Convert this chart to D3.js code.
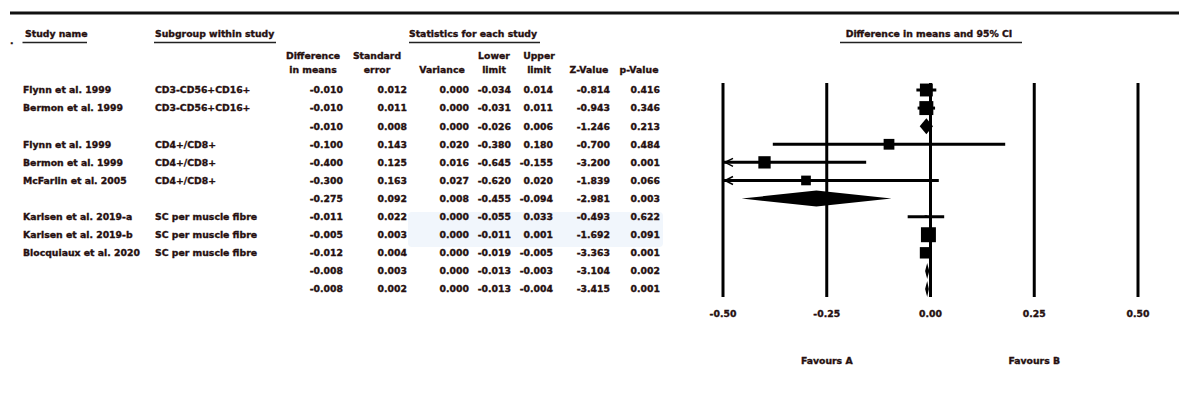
<!DOCTYPE html>
<html><head><meta charset="utf-8">
<script src="https://cdn.jsdelivr.net/npm/d3@7"></script>
<style>
html,body{margin:0;padding:0;background:#fff;}
svg text{font-family:"DejaVu Sans",sans-serif;font-weight:bold;font-size:9.3px;fill:#261010;stroke:#261010;stroke-width:0.35px;}
</style></head>
<body>
<svg id="chart" width="1179" height="415"></svg>
<script>
// ---- data ----
const studyNames = ["Flynn et al. 1999","Bermon et al. 1999","","Flynn et al. 1999","Bermon et al. 1999","McFarlin et al. 2005","","Karlsen et al. 2019-a","Karlsen et al. 2019-b","Blocquiaux et al. 2020","",""];
const subgroups = ["CD3-CD56+CD16+","CD3-CD56+CD16+","","CD4+/CD8+","CD4+/CD8+","CD4+/CD8+","","SC per muscle fibre","SC per muscle fibre","SC per muscle fibre","",""];
const rowType = ["study","study","summary","study","study","study","summary","study","study","study","summary","summary"];
const diffMeans = [-0.010,-0.010,-0.010,-0.100,-0.400,-0.300,-0.275,-0.011,-0.005,-0.012,-0.008,-0.008];
const stdError = [0.012,0.011,0.008,0.143,0.125,0.163,0.092,0.022,0.003,0.004,0.003,0.002];
const variance = [0.000,0.000,0.000,0.020,0.016,0.027,0.008,0.000,0.000,0.000,0.000,0.000];
const lowerLimit = [-0.034,-0.031,-0.026,-0.380,-0.645,-0.620,-0.455,-0.055,-0.011,-0.019,-0.013,-0.013];
const upperLimit = [0.014,0.011,0.006,0.180,-0.155,0.020,-0.094,0.033,0.001,-0.005,-0.003,-0.004];
const zValue = [-0.814,-0.943,-1.246,-0.700,-3.200,-1.839,-2.981,-0.493,-1.692,-3.363,-3.104,-3.415];
const pValue = [0.416,0.346,0.213,0.484,0.001,0.066,0.003,0.622,0.091,0.001,0.002,0.001];
// relative weight within subgroup (%), estimated from square sizes
const relWeight = [46,54,0,32,42,26,0,2,62,36,0,0];
const xTicks = [-0.50,-0.25,0.00,0.25,0.50];
const favourLabels = [{text:"Favours A", at:-0.25},{text:"Favours B", at:0.25}];

// ---- layout ----
const svg = d3.select("#chart");
const n = diffMeans.length;
const rowY = d3.scaleLinear().domain([0, n-1]).range([90, 289]);
const x = d3.scaleLinear().domain([-0.5, 0.5]).range([723, 1138]);
const sq = d3.scaleSqrt().domain([0,100]).range([0,19]);
const fmt = d3.format(".3f");
const txtOff = 3.4;

// faint screen-snip overlay (behind everything)
svg.append("rect").attr("x",408).attr("y",212).attr("width",255).attr("height",35).attr("rx",4)
  .attr("fill","#f1f6fc");

// top rule
svg.append("line").attr("x1",10).attr("x2",1179).attr("y1",13).attr("y2",13)
  .attr("stroke","#111").attr("stroke-width",3);

// stray dot
svg.append("text").attr("x",10).attr("y",44).text(".");

// section headers with underlines
const sections = [
  {text:"Study name", x:25, anchor:"start", ux1:22.5, ux2:87},
  {text:"Subgroup within study", x:155, anchor:"start", ux1:154, ux2:276},
  {text:"Statistics for each study", x:473, anchor:"middle", ux1:409, ux2:540},
  {text:"Difference in means and 95% CI", x:929, anchor:"middle", ux1:840, ux2:1022}
];
sections.forEach(s=>{
  svg.append("text").attr("x",s.x).attr("y",37).attr("text-anchor",s.anchor).text(s.text);
  svg.append("line").attr("x1",s.ux1).attr("x2",s.ux2).attr("y1",42.5).attr("y2",42.5)
    .attr("stroke","#222").attr("stroke-width",1.5);
});

// column definitions
const cols = [
  {h:["Difference","in means"], hc:313, right:343, vals:diffMeans},
  {h:["Standard","error"], hc:377, right:407, vals:stdError},
  {h:["","Variance"], hc:442, right:469, vals:variance},
  {h:["Lower","limit"], hc:494, right:511, vals:lowerLimit},
  {h:["Upper","limit"], hc:539, right:553, vals:upperLimit},
  {h:["","Z-Value"], hc:589, right:610, vals:zValue},
  {h:["","p-Value"], hc:639, right:660, vals:pValue}
];
cols.forEach(c=>{
  c.h.forEach((t,i)=>{ if(t) svg.append("text").attr("x",c.hc).attr("y",59+i*14).attr("text-anchor","middle").text(t); });
  svg.selectAll(null).data(c.vals).enter().append("text")
    .attr("x",c.right).attr("y",(d,i)=>rowY(i)+txtOff).attr("text-anchor","end")
    .text(d=>fmt(d).replace("−","-"));
});

// study / subgroup labels
svg.selectAll(null).data(studyNames).enter().append("text")
  .attr("x",23).attr("y",(d,i)=>rowY(i)+txtOff).text(d=>d);
svg.selectAll(null).data(subgroups).enter().append("text")
  .attr("x",155).attr("y",(d,i)=>rowY(i)+txtOff).text(d=>d);

// vertical reference lines
svg.selectAll(null).data(xTicks).enter().append("line")
  .attr("x1",d=>x(d)).attr("x2",d=>x(d)).attr("y1",83).attr("y2",297)
  .attr("stroke","#000").attr("stroke-width",3);

// tick labels
svg.selectAll(null).data(xTicks).enter().append("text")
  .attr("x",d=>x(d)).attr("y",317).attr("text-anchor","middle")
  .text(d=>d3.format(".2f")(d).replace("−","-"));

// favours labels
svg.selectAll(null).data(favourLabels).enter().append("text")
  .attr("x",d=>x(d.at)).attr("y",364).attr("text-anchor","middle").text(d=>d.text);

// forest marks
const rows = d3.range(n).map(i=>({i, y:rowY(i), est:diffMeans[i], lo:lowerLimit[i], hi:upperLimit[i], type:rowType[i], w:relWeight[i]}));
const marks = svg.append("g");
rows.filter(r=>r.type==="study").forEach(r=>{
  const lo = Math.max(r.lo, -0.5), hi = Math.min(r.hi, 0.5);
  marks.append("line").attr("x1",x(lo)).attr("x2",x(hi)).attr("y1",r.y).attr("y2",r.y)
    .attr("stroke","#000").attr("stroke-width",3);
  if (r.lo < -0.5) {
    marks.append("path")
      .attr("d",`M${x(-0.5)+10},${r.y-4} L${x(-0.5)+2},${r.y} L${x(-0.5)+10},${r.y+4}`)
      .attr("fill","none").attr("stroke","#000").attr("stroke-width",1.5);
  }
  const s = sq(r.w);
  marks.append("rect").attr("x",x(r.est)-s/2).attr("y",r.y-s/2).attr("width",s).attr("height",s).attr("fill","#000");
});
rows.filter(r=>r.type==="summary").forEach(r=>{
  const h = 8;
  marks.append("path")
    .attr("d",`M${x(r.lo)},${r.y} L${x(r.est)},${r.y-h} L${x(r.hi)},${r.y} L${x(r.est)},${r.y+h} Z`)
    .attr("fill","#000");
});
</script>
</body></html>
